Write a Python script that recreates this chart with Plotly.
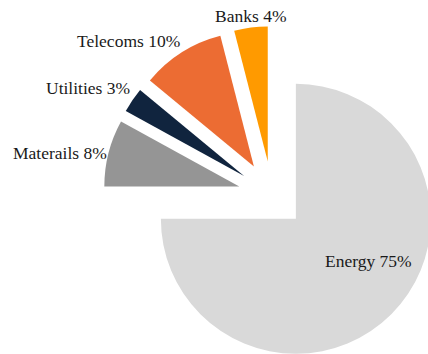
import numpy as np
import plotly.graph_objects as go

labels = ["Energy", "Materails", "Utilities", "Telecoms", "Banks"]
values = [75, 8, 3, 10, 4]
colors = ["#d9d9d9", "#959595", "#10243e", "#ec6c33", "#ff9a00"]
label_inside = [True, False, False, False, False]

W, H = 444, 366
cx, cy, r, pull = 272, 195, 135, 0.25
half = r * (1 + pull)
FONT = dict(family="Liberation Serif", size=17.5, color="#1a1a1a")
INSIDE_RADIUS = 0.62      # label radius (fraction of r) for inside labels
INSIDE_ANGLE_SHIFT = -15  # degrees

fig = go.Figure(go.Pie(
    labels=labels,
    values=values,
    sort=False,
    direction="clockwise",
    rotation=0,
    pull=[pull] * len(values),
    marker=dict(colors=colors, line=dict(width=0)),
    textinfo="none",
    automargin=False,
    showlegend=False,
    hovertemplate="%{label} %{percent:.0%}<extra></extra>",
    domain=dict(x=[(cx - half) / W, (cx + half) / W],
                y=[(H - cy - half) / H, (H - cy + half) / H]),
))

# label placement derived from the slice angles
vals = np.array(values, dtype=float)
frac = vals / vals.sum()
start = np.concatenate([[0.0], np.cumsum(frac)[:-1]])
mid = np.radians((start + frac / 2) * 360.0)
total = int(vals.sum())

annotations = []
for lab, v, th, inside in zip(labels, values, mid, label_inside):
    txt = f"{lab} {round(100 * v / total)}%"
    sx, cz = np.sin(th), np.cos(th)
    if inside:
        pcx = cx + pull * r * sx
        pcy = cy - pull * r * cz
        ta = th + np.radians(INSIDE_ANGLE_SHIFT)
        px = pcx + INSIDE_RADIUS * r * np.sin(ta)
        py = pcy - INSIDE_RADIUS * r * np.cos(ta)
        xa, ya = "center", "middle"
    else:
        px = cx + (1 + pull) * r * sx
        py = cy - (1 + pull) * r * cz
        xa = "center" if abs(sx) < 0.3 else ("left" if sx > 0 else "right")
        ya = "bottom" if cz > 0.5 else ("top" if cz < -0.5 else "middle")
    annotations.append(dict(
        x=px / W, y=1 - py / H, xref="paper", yref="paper",
        text=txt, showarrow=False, xanchor=xa, yanchor=ya, font=FONT,
    ))

fig.update_layout(
    width=W, height=H,
    margin=dict(l=0, r=0, t=0, b=0, pad=0, autoexpand=False),
    paper_bgcolor="white",
    plot_bgcolor="white",
    annotations=annotations,
)
fig.write_html("out.html", config={"displayModeBar": False},
               post_script="document.body.style.margin='0';")
